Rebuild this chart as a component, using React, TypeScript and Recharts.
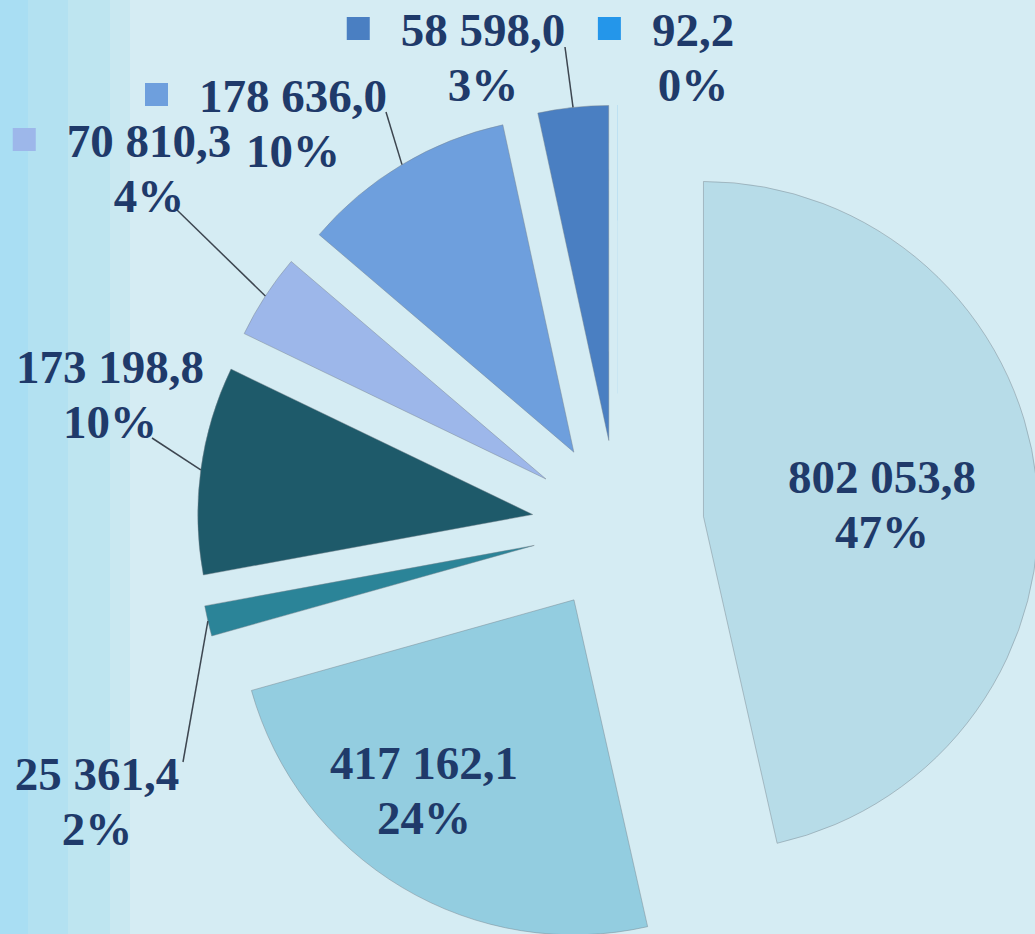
import React from 'react';
import { PieChart, Pie, Cell, Sector, Tooltip } from 'recharts';

// slice values, clockwise from 12 o'clock
const VALUES = [802053.8, 417162.1, 25361.4, 173198.8, 70810.3, 178636.0, 58598.0, 92.2];
// percentages as printed on the original labels
const PERCENT_LABELS = ['47%', '24%', '2%', '10%', '4%', '10%', '3%', '0%'];

const COLORS = ['#b7dce8', '#93cde0', '#2b8498', '#1e5a6a', '#9db7ea', '#6e9fdd', '#4a7fc2', '#2496ea'];
const EDGE = 'rgba(120,130,140,0.45)';

const W = 1035;
const H = 934;
const CX = 618;
const CY = 526;
const RADIUS = 335;
const EXPLODE = 86;
const FONT_SIZE = 47;
const LINE_GAP = 55;
const TEXT_COLOR = '#1f3a6a';

// label anchor (centre of first line, baseline) relative to the pie centre,
// optional legend key and leader start relative to the anchor
const LABEL_LAYOUT: { dx: number; dy: number; key?: boolean; lead?: [number, number] }[] = [
  { dx: 264, dy: -33 },
  { dx: -194, dy: 253 },
  { dx: -521, dy: 264, lead: [86, -28] },
  { dx: -508, dy: -143, lead: [42, 55] },
  { dx: -469, dy: -369, key: true, lead: [28, 53] },
  { dx: -325, dy: -414, key: true, lead: [93, 0] },
  { dx: -135, dy: -480, key: true, lead: [82, 1] },
  { dx: 75, dy: -480, key: true },
];

const data = VALUES.map((value, i) => ({ name: `s${i}`, value }));

const formatValue = (v: number) => {
  const [int, dec] = v.toFixed(1).split('.');
  return int.replace(/\B(?=(\d{3})+(?!\d))/g, ' ') + ',' + dec;
};

// rough width of a bold serif number string
const textWidth = (s: string) =>
  s.split('').reduce((w, ch) => w + (/\d/.test(ch) ? 0.5 : 0.25), 0) * FONT_SIZE;

// every slice pulled out along its mid angle
const ExplodedSector = (props: any) => {
  const { cx, cy, startAngle, endAngle } = props;
  const mid = (-((startAngle + endAngle) / 2) * Math.PI) / 180;
  return (
    <Sector
      {...props}
      cx={cx + EXPLODE * Math.cos(mid)}
      cy={cy + EXPLODE * Math.sin(mid)}
    />
  );
};

const renderLabel = (props: any) => {
  const { cx, cy, index, startAngle, endAngle, outerRadius } = props;
  const spot = LABEL_LAYOUT[index];
  if (!spot) return null;
  const x = cx + spot.dx;
  const y = cy + spot.dy;
  const valueText = formatValue(VALUES[index]);
  const mid = (-((startAngle + endAngle) / 2) * Math.PI) / 180;
  const reach = outerRadius + EXPLODE;
  const ex = cx + reach * Math.cos(mid);
  const ey = cy + reach * Math.sin(mid);
  const w = textWidth(valueText);
  const font = { fontFamily: '"Liberation Serif", "Times New Roman", serif', fontWeight: 'bold', fontSize: FONT_SIZE };

  return (
    <g key={`label-${index}`}>
      {spot.lead && (
        <line
          x1={x + spot.lead[0]}
          y1={y + spot.lead[1]}
          x2={ex}
          y2={ey}
          stroke="#3d4650"
          strokeWidth={1.5}
        />
      )}
      {spot.key && (
        <rect x={x - w / 2 - 54} y={y - 29} width={23} height={23} fill={COLORS[index]} />
      )}
      <text x={x} y={y} textAnchor="middle" fill={TEXT_COLOR} style={font}>
        {valueText}
      </text>
      <text x={x} y={y + LINE_GAP} textAnchor="middle" fill={TEXT_COLOR} style={font}>
        {PERCENT_LABELS[index]}
      </text>
    </g>
  );
};

export default function App() {
  const pieProps: any = {
    shape: ExplodedSector,
    activeShape: ExplodedSector,
    inactiveShape: ExplodedSector,
  };
  return (
    <div
      style={{
        position: 'absolute',
        left: 0,
        top: 0,
        width: W,
        height: H,
        overflow: 'hidden',
        background:
          'linear-gradient(to right, #a9def3 0px, #a9def3 28px, #b3e1f1 28px, #b3e1f1 68px, #bee5f0 68px, #bee5f0 110px, #c9e8f1 110px, #c9e8f1 130px, #d5ecf3 130px)',
      }}
    >
      <style>{`.recharts-wrapper *:focus { outline: none; }`}</style>
      <PieChart width={W} height={H} margin={{ top: 0, right: 0, bottom: 0, left: 0 }}>
        <Tooltip defaultIndex={0} content={() => null} cursor={false} />
        <Pie
          data={data}
          dataKey="value"
          cx={CX}
          cy={CY}
          innerRadius={0}
          outerRadius={RADIUS}
          startAngle={90}
          endAngle={-270}
          paddingAngle={0}
          strokeWidth={1}
          {...pieProps}
          label={renderLabel}
          labelLine={false}
          isAnimationActive={false}
        >
          {data.map((entry, index) => (
            <Cell
              key={`cell-${index}`}
              fill={COLORS[index]}
              stroke={entry.value / VALUES.reduce((a, b) => a + b, 0) < 0.005 ? 'none' : EDGE}
            />
          ))}
        </Pie>
      </PieChart>
    </div>
  );
}
